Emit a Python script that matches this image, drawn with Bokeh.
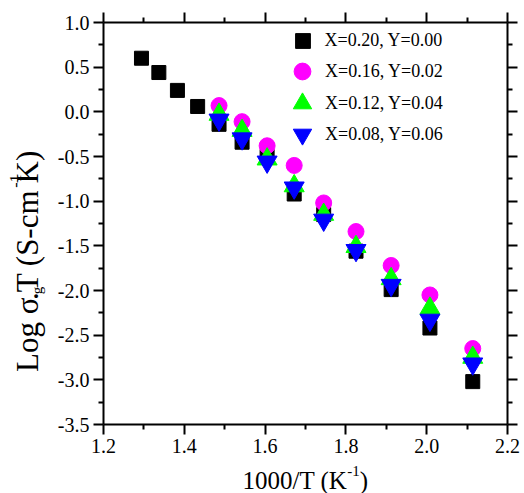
import math
from bokeh.plotting import figure
from bokeh.layouts import column, row
from bokeh.core.properties import value
from bokeh.models import (Range1d, LinearAxis, FixedTicker, Legend, LegendItem,
                          CustomJSTickFormatter, PrintfTickFormatter)
from bokeh.embed import file_html
from bokeh.resources import INLINE

# ---------------- data ----------------
inv_T_all = [1.294, 1.337, 1.383, 1.433, 1.486, 1.543, 1.605, 1.672, 1.745, 1.825, 1.912, 2.008, 2.114]
inv_T_sub = [1.486, 1.543, 1.605, 1.672, 1.745, 1.825, 1.912, 2.008, 2.114]

logsig_x020 = [0.60, 0.44, 0.24, 0.06, -0.14, -0.34, -0.50, -0.92, -1.15, -1.56, -1.99, -2.42, -3.02]
logsig_x016 = [0.07, -0.11, -0.38, -0.60, -1.02, -1.34, -1.72, -2.05, -2.65]
logsig_x012 = [-0.03, -0.21, -0.53, -0.83, -1.15, -1.51, -1.87, -2.20, -2.75]
logsig_x008 = [-0.09, -0.30, -0.56, -0.85, -1.21, -1.55, -1.94, -2.33, -2.82]

series_labels = ["X=0.20, Y=0.00", "X=0.16, Y=0.02", "X=0.12, Y=0.04", "X=0.08, Y=0.06"]

x_ticks = [1.2, 1.4, 1.6, 1.8, 2.0, 2.2]
x_minor = [1.3, 1.5, 1.7, 1.9, 2.1]
y_ticks = [-3.5, -3.0, -2.5, -2.0, -1.5, -1.0, -0.5, 0.0, 0.5, 1.0]
y_minor = [-3.25, -2.75, -2.25, -1.75, -1.25, -0.75, -0.25, 0.25, 0.75]

FONT = "Liberation Serif"
ASC = 0.891          # ascent of the font, in em

# layout geometry (pixels)
W_TOT, H_TOT = 524, 493
YT_W = 50            # width of strip holding the y title
MAIN_H = 460         # height of main plot (frame bottom at 424)
XT_H = H_TOT - MAIN_H

p = figure(width=W_TOT - YT_W, height=MAIN_H, x_range=Range1d(1.2, 2.2), y_range=Range1d(-3.5, 1.0),
           output_backend="svg", toolbar_location=None,
           min_border_left=103 - YT_W, min_border_right=17, min_border_top=22,
           min_border_bottom=MAIN_H - 424,
           background_fill_color="white", border_fill_color="white")
p.grid.visible = False
p.outline_line_color = None

xt = FixedTicker(ticks=x_ticks, minor_ticks=x_minor)
yt = FixedTicker(ticks=y_ticks, minor_ticks=y_minor)


def style(ax, labels=True):
    ax.axis_line_width = 2
    ax.axis_line_color = "black"
    ax.major_tick_line_width = 2
    ax.minor_tick_line_width = 2
    ax.major_tick_in = 0
    ax.major_tick_out = 10
    ax.minor_tick_in = 0
    ax.minor_tick_out = 5
    ax.major_tick_line_color = "black"
    ax.minor_tick_line_color = "black"
    if labels:
        ax.major_label_text_font = FONT
        ax.major_label_text_font_size = "20px"
        ax.major_label_text_color = "black"
        ax.major_label_standoff = 4
    else:
        ax.major_label_text_font_size = "1px"
        ax.major_label_standoff = 0


p.xaxis.ticker = xt
p.yaxis.ticker = yt
p.xaxis.formatter = PrintfTickFormatter(format="%.1f")
p.yaxis.formatter = PrintfTickFormatter(format="%.1f")
style(p.xaxis[0])
style(p.yaxis[0])

top = LinearAxis(ticker=xt, formatter=CustomJSTickFormatter(code="return ''"))
right = LinearAxis(ticker=yt, formatter=CustomJSTickFormatter(code="return ''"))
style(top, labels=False)
style(right, labels=False)
p.add_layout(top, "above")
p.add_layout(right, "right")

# ---------------- data markers ----------------
r0 = p.scatter(inv_T_all, logsig_x020, marker="square", size=14,
               fill_color="#000000", line_color="#000000")
r1 = p.scatter(inv_T_sub, logsig_x016, marker="circle", size=16,
               fill_color="#FF00FF", line_color="#FF00FF")
r2 = p.scatter(inv_T_sub, logsig_x012, marker="triangle", size=20,
               fill_color="#00FF00", line_color="#00FF00")
r3 = p.scatter(inv_T_sub, logsig_x008, marker="inverted_triangle", size=20,
               fill_color="#0000FF", line_color="#0000FF")

# ---------------- legend: one single-item legend per row ----------------
FRAME_LEFT, FRAME_BOTTOM = 103, 424     # canvas pixels
glyph_cx, text_x = 302, 325
row_cy = [40, 71, 103, 134]
glyph_box = [37, 42, 46, 46]
for lab, r, cy, g in zip(series_labels, [r0, r1, r2, r3], row_cy, glyph_box):
    left = glyph_cx - g / 2 - FRAME_LEFT
    lg = Legend(items=[LegendItem(label=lab, renderers=[r])],
                location=(left, FRAME_BOTTOM - (cy + g / 2)),
                glyph_width=g, glyph_height=g, spacing=0, padding=0, margin=0,
                label_standoff=int(round(text_x - glyph_cx - g / 2)),
                label_text_font=FONT, label_text_font_size="18px", label_text_color="black",
                border_line_color=None, background_fill_alpha=0)
    p.add_layout(lg)

# ---------------- axis titles (separate strips so nothing is clipped) ----------------
W = {'L': 0.611, 'o': 0.5, 'g': 0.5, ' ': 0.25, 'σ': 0.55, '.': 0.25, 'T': 0.611, '(': 0.333,
     'S': 0.556, '-': 0.333, 'c': 0.444, 'm': 0.778, '1': 0.5, 'K': 0.722, ')': 0.333,
     '0': 0.5, '/': 0.278}


def tw(s, size):
    return sum(W.get(c, 0.5) for c in s) * size


def strip(w, h):
    f = figure(width=w, height=h, x_range=Range1d(0, w), y_range=Range1d(0, h),
               output_backend="svg", toolbar_location=None, min_border=0,
               x_axis_location=None, y_axis_location=None,
               background_fill_color="white", border_fill_color="white")
    f.grid.visible = False
    f.outline_line_color = None
    return f


def put(f, x, y, text, size, angle=0.0, baseline="alphabetic"):
    f.text(x=[x], y=[y], text=[text], angle=angle, text_font=value(FONT),
           text_font_size=value(f"{size}px"), text_color="black",
           text_align="left", text_baseline=baseline)


# x title: 1000/T (K^-1)   (y measured up from strip bottom)
xs_fig = strip(W_TOT, XT_H)
XF, XS = 25, 15
base = H_TOT - 480
x0 = 242
put(xs_fig, x0, base, "1000/T (K", XF)
x1 = x0 + tw("1000/T (K", XF)
put(xs_fig, x1, base + 10, "-1", XS)
x2 = x1 + tw("-1", XS)
put(xs_fig, x2, base, ")", XF)

# y title: Log sigma_g.T (S-cm^-1 K), rotated, reading upwards.
# Each piece is anchored at the top of its text box; the rotated box is drawn
# one ascent further along the text, so that amount is taken back.
ys_fig = strip(YT_W, MAIN_H)
YF = 31
bx = 37              # baseline position of the main text (canvas x)
# (text, font size, shift across the baseline, gap before the piece)
pieces = [("Log σ", YF, 0, 0), ("g", 15, 5, 0), (".T (S-cm", YF, 0, 0),
          ("-1", 16, -13, 5), ("K)", YF, 0, 5)]
total = sum(tw(t, s) + gap for t, s, _, gap in pieces)
pos = (MAIN_H - 248) - total / 2
for t, s, d, gap in pieces:
    pos += gap
    put(ys_fig, bx + d - ASC * s, pos - ASC * s, t, s, angle=math.pi / 2, baseline="top")
    pos += tw(t, s)

layout = column(row(ys_fig, p), xs_fig)
open("out.html", "w").write(file_html(layout, INLINE))
